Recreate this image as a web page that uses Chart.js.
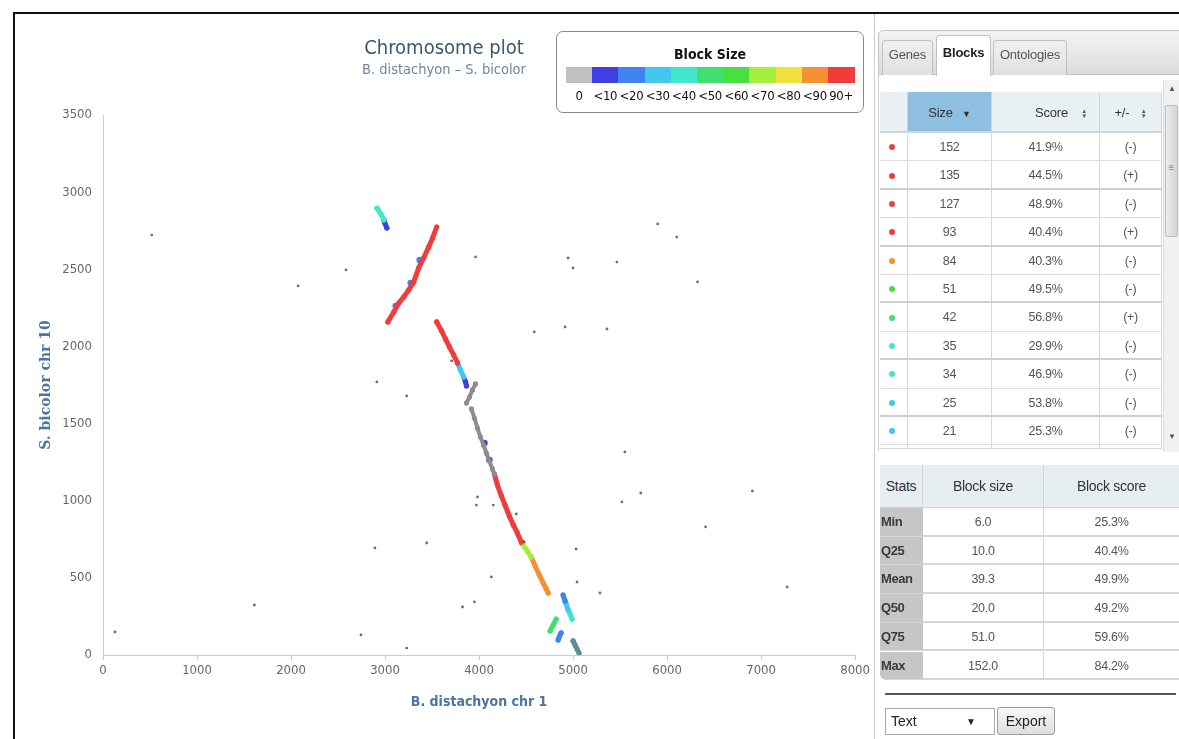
<!DOCTYPE html>
<html>
<head>
<meta charset="utf-8">
<script src="https://cdn.jsdelivr.net/npm/chart.js@4.4.1/dist/chart.umd.min.js"></script>
<style>
  html, body { margin: 0; padding: 0; background: #fff; }
  body { width: 1179px; height: 739px; position: relative; overflow: hidden;
         font-family: "Liberation Sans Narrow", "Arial Narrow", "Liberation Sans", Arial, sans-serif; }
  .abs { position: absolute; }
  #frame { left: 13px; top: 12px; width: 1200px; height: 760px; border-left: 2px solid #111; border-top: 2px solid #111; box-sizing: border-box; }
  #divider { left: 874px; top: 14px; width: 1px; height: 730px; background: #cfcfcf; }
  #chartWrap { left: 15px; top: 14px; width: 858px; height: 725px; }
  #title { left: 15px; width: 858px; top: 35px; text-align: center; font: 20px/24px "DejaVu Sans Condensed", "Liberation Sans Narrow", sans-serif; color: #3e576f; }
  #subtitle { left: 15px; width: 858px; top: 61px; text-align: center; font: 14.5px/17px "DejaVu Sans Condensed", "Liberation Sans Narrow", sans-serif; color: #6d869f; }
  #legend { left: 556px; top: 31px; width: 308px; height: 82px; border: 1px solid #8a8a8a; border-radius: 7px; box-sizing: border-box; background: #fff; }
  #legendTitle { left: 0; width: 306px; top: 13px; text-align: center; font: bold 14px/18px "DejaVu Sans Condensed", "Liberation Sans Narrow", sans-serif; color: #111; }
  .lcell { position: absolute; top: 35px; height: 16px; }
  .llab { position: absolute; top: 56px; width: 30px; text-align: center; font: 13px/15px "DejaVu Sans Condensed", "Liberation Sans Narrow", sans-serif; color: #111; white-space: nowrap; letter-spacing: -0.3px; }

  #tabbar { left: 878px; top: 30px; width: 320px; height: 45px; background: linear-gradient(#f4f4f4, #dcdcdc); border: 1px solid #c4c4c4; border-radius: 5px 0 0 0; box-sizing: border-box; }
  .tab { position: absolute; box-sizing: border-box; border: 1px solid #c0c0c0; border-bottom: none; border-radius: 4px 4px 0 0; text-align: center; font-size: 13px; color: #555; background: linear-gradient(#f0f0f0, #e0e0e0); letter-spacing: -0.2px; }
  .tab.active { background: #fff; color: #222; font-weight: bold; }
  #panelLeft { left: 878px; top: 75px; width: 1px; height: 376px; background: #d0d0d0; }

  .hcell { position: absolute; box-sizing: border-box; background: #e9f0f3; border-right: 1px solid #d4d4d4; border-bottom: 2px solid #cfd6da; font-size: 13px; color: #333; text-align: center; letter-spacing: -0.2px; }
  .cell { position: absolute; box-sizing: border-box; border-right: 1px solid #d8d8d8; font-size: 12.5px; color: #555; text-align: center; background: #fff; letter-spacing: -0.3px; }
  .dot { position: absolute; width: 6px; height: 6px; border-radius: 50%; }
  .sort { display: inline-block; font-size: 6px; line-height: 5px; vertical-align: middle; color: #555; margin-left: 8px; }
  #scroll { left: 1163px; top: 80px; width: 16px; height: 372px; background: #f1f1f1; border-left: 1px solid #dcdcdc; box-sizing: border-box; }
  #thumb { left: 1165px; top: 105px; width: 13px; height: 132px; background: linear-gradient(90deg, #ececec, #d4d4d4); border: 1px solid #bcbcbc; border-radius: 2px; box-sizing: border-box; }
  .arrow { position: absolute; font-size: 8px; color: #555; width: 16px; text-align: center; left: 1164px; }

  .shcell { position: absolute; box-sizing: border-box; background: #e7eef2; border-right: 1px solid #d4d4d4; border-bottom: 1px solid #d0d0d0; font-size: 14px; color: #333; text-align: center; letter-spacing: -0.3px; }
  .slab { position: absolute; box-sizing: border-box; background: #c6c6c6; font-size: 13px; font-weight: bold; color: #3a3a3a; padding-left: 1px; border-bottom: 1px solid #d8d8d8; letter-spacing: -0.4px; }
  .sval { position: absolute; box-sizing: border-box; font-size: 12.5px; color: #555; text-align: center; border-right: 1px solid #d8d8d8; border-bottom: 2px solid #d6d6d6; background: #fff; letter-spacing: -0.3px; }
  #hr { left: 885px; top: 693px; width: 291px; height: 2px; background: #555; }
  #select { left: 885px; top: 708px; width: 110px; height: 27px; border: 1px solid #a9a9a9; box-sizing: border-box; font-size: 14px; line-height: 25px; padding-left: 5px; color: #222; background: #fff; }
  #selArrow { left: 966px; top: 708px; font-size: 10px; line-height: 27px; color: #222; }
  #export { left: 997px; top: 707px; width: 58px; height: 28px; border: 1px solid #9a9a9a; border-radius: 3px; box-sizing: border-box; background: linear-gradient(#f8f8f8, #dedede); font-size: 14px; line-height: 26px; text-align: center; color: #222; }
</style>
</head>
<body>
<div id="frame" class="abs"></div>
<div id="divider" class="abs"></div>
<div id="chartWrap" class="abs"><canvas id="c"></canvas></div>
<div id="title" class="abs">Chromosome plot</div>
<div id="subtitle" class="abs">B. distachyon – S. bicolor</div>
<div id="legend" class="abs"><div id="legendTitle" class="abs">Block Size</div></div>

<div id="tabbar" class="abs"></div>
<div id="tabs"></div>
<div id="panelLeft" class="abs"></div>
<div id="blocks"></div>
<div id="scroll" class="abs"></div>
<div id="thumb" class="abs"></div>
<div class="arrow" style="top:84px;">▲</div>
<div class="arrow" style="top:162px;left:1165px;width:13px;font-size:10px;color:#888;">≡</div>
<div class="arrow" style="top:432px;">▼</div>
<div id="stats"></div>
<div id="hr" class="abs"></div>
<div id="select" class="abs">Text</div>
<div id="selArrow" class="abs">▼</div>
<div id="export" class="abs">Export</div>

<script>
// ---------------- DATA ----------------
const legendLabels = ["0", "<10", "<20", "<30", "<40", "<50", "<60", "<70", "<80", "<90", "90+"];
const legendColors = ["#c0c0c0", "#4040e2", "#3f84f0", "#40c8f0", "#40e8c8", "#40e070", "#48e040", "#a4ee3c", "#f2e040", "#f59035", "#f23c3c"];

const xTickValues = [0, 1000, 2000, 3000, 4000, 5000, 6000, 7000, 8000];
const yTickValues = [0, 500, 1000, 1500, 2000, 2500, 3000, 3500];

// isolated gene pairs (grey dots)
const singletons = [
  [127,149],[519,2722],[2076,2392],[2585,2496],[2892,694],[2913,1770],[3231,1679],[2744,130],
  [3231,45],[3443,726],[3962,2580],[4587,2094],[4915,2126],[3708,1906],[3983,1024],[3972,972],
  [4152,972],[4396,914],[5032,687],[3824,311],[3951,344],[4131,506],[5042,473],[5286,402],
  [1610,324],[4947,2573],[5000,2509],[5466,2547],[5360,2113],[5551,1316],[5720,1050],[5519,992],
  [5900,2794],[6102,2709],[6324,2418],[6409,830],[6907,1063],[7277,441]
];

// syntenic blocks
const blkTealTop    = [[2913,2897],[2956,2859],[2987,2820]];
const blkBlueTop    = [[2987,2820],[2998,2800],[3019,2768]];
const blkRedUp      = [[3030,2159],[3093,2223],[3146,2281],[3199,2321],[3252,2366],[3305,2418],[3358,2509],[3411,2574],[3464,2645],[3506,2703],[3549,2774]];
const blkBlueDotsUp = [[3114,2262],[3273,2411],[3369,2560]];
const blkRedDown1   = [[3549,2159],[3602,2100],[3644,2048],[3686,1996],[3729,1945],[3771,1893]];
const blkCyanMid    = [[3771,1893],[3803,1847],[3835,1802]];
const blkBlueMid    = [[3835,1802],[3856,1770],[3866,1744]];
const blkGreyUpper  = [[3962,1757],[3930,1718],[3898,1672],[3866,1633]];
const blkGreyLower  = [[3919,1595],[3951,1536],[3983,1471],[4015,1413],[4047,1361],[4078,1309],[4110,1257],[4142,1206],[4163,1173]];
const blkBlueDotsGr = [[4057,1374],[4110,1264]];
const blkRedDown2   = [[4163,1173],[4195,1102],[4237,1031],[4280,966],[4322,901],[4364,843],[4407,791],[4449,732]];
const blkBlackDot   = [[4460,726]];
const blkGreen51    = [[4470,713],[4513,674],[4555,635]];
const blkOrange84   = [[4555,635],[4597,577],[4640,519],[4682,467],[4714,428],[4735,402]];
const blkBlueLow    = [[4894,389],[4915,350]];
const blkCyanLow    = [[4915,350],[4926,331],[4947,292]];
const blkTealLow    = [[4947,292],[4968,266],[4989,233]];
const blkGreenLow   = [[4820,233],[4788,194],[4756,156]];
const blkBlueLow2   = [[4873,143],[4852,117],[4841,97]];
const blkSlateLow   = [[5000,91],[5021,65],[5042,39],[5063,13]];

// Blocks table
const tblSizes   = [152, 135, 127, 93, 84, 51, 42, 35, 34, 25, 21];
const tblScores  = ["41.9%", "44.5%", "48.9%", "40.4%", "40.3%", "49.5%", "56.8%", "29.9%", "46.9%", "53.8%", "25.3%"];
const tblStrand  = ["(-)", "(+)", "(-)", "(+)", "(-)", "(-)", "(+)", "(-)", "(-)", "(-)", "(-)"];

// Stats table
const statNames  = ["Min", "Q25", "Mean", "Q50", "Q75", "Max"];
const statSize   = ["6.0", "10.0", "39.3", "20.0", "51.0", "152.0"];
const statScore  = ["25.3%", "40.4%", "49.9%", "49.2%", "59.6%", "84.2%"];

// ---------------- LEGEND ----------------
const legend = document.getElementById('legend');
const cellW = 26.2;
legendColors.forEach((c, i) => {
  const d = document.createElement('div');
  d.className = 'lcell';
  d.style.left = (9 + i * cellW) + 'px';
  d.style.width = (cellW + 0.5) + 'px';
  d.style.background = c;
  legend.appendChild(d);
  const l = document.createElement('div');
  l.className = 'llab';
  l.style.left = (9 + i * cellW + cellW / 2 - 15) + 'px';
  l.textContent = legendLabels[i];
  legend.appendChild(l);
});

function sizeClass(n) {
  if (n <= 0) return 0;
  if (n >= 90) return 10;
  return Math.floor(n / 10) + 1;
}

// ---------------- TABS ----------------
const tabs = [["Genes", 882, 40, 51, 35, false], ["Blocks", 936, 35, 55, 41, true], ["Ontologies", 993, 40, 74, 35, false]];
const tabsDiv = document.getElementById('tabs');
tabs.forEach(t => {
  const d = document.createElement('div');
  d.className = 'tab' + (t[5] ? ' active' : '');
  d.style.left = t[1] + 'px'; d.style.top = t[2] + 'px';
  d.style.width = t[3] + 'px'; d.style.height = t[4] + 'px';
  d.style.lineHeight = (t[5] ? 34 : 28) + 'px';
  d.textContent = t[0];
  tabsDiv.appendChild(d);
});

// ---------------- BLOCKS TABLE ----------------
const bt = document.getElementById('blocks');
const cols = [[880, 28], [908, 84], [992, 108], [1100, 62]];
function addDiv(parent, cls, l, t, w, h, html, extra) {
  const d = document.createElement('div');
  d.className = cls;
  d.style.left = l + 'px'; d.style.top = t + 'px';
  d.style.width = w + 'px'; d.style.height = h + 'px';
  d.style.lineHeight = h + 'px';
  if (html !== undefined) d.innerHTML = html;
  if (extra) Object.assign(d.style, extra);
  parent.appendChild(d);
  return d;
}
const sortIcon = '<span class="sort">▲<br>▼</span>';
addDiv(bt, 'hcell', cols[0][0], 92, cols[0][1], 41, '');
addDiv(bt, 'hcell', cols[1][0], 92, cols[1][1], 41, 'Size <span style="font-size:9px;margin-left:6px;">▼</span>', {background: '#8ebfe1'});
addDiv(bt, 'hcell', cols[2][0], 92, cols[2][1], 41, '<span style="margin-left:12px">Score</span><span style="position:absolute;right:12px;top:0">' + sortIcon + '</span>');
addDiv(bt, 'hcell', cols[3][0], 92, cols[3][1], 41, '+/- ' + sortIcon, {});
const rowTop0 = 133, rowH = 28.4;
tblSizes.forEach((s, i) => {
  const top = rowTop0 + i * rowH;
  const bb = (i % 2 === 1) ? '2px solid #cfcfcf' : '1px solid #dedede';
  const vals = ['', String(s), tblScores[i], tblStrand[i]];
  cols.forEach((c, j) => {
    addDiv(bt, 'cell', c[0], top, c[1], rowH, vals[j], {borderBottom: bb});
  });
  const dot = document.createElement('div');
  dot.className = 'dot';
  dot.style.left = '889px';
  dot.style.top = (top + rowH / 2 - 3) + 'px';
  dot.style.background = legendColors[sizeClass(s)];
  bt.appendChild(dot);
});
cols.forEach(c => addDiv(bt, 'cell', c[0], rowTop0 + tblSizes.length * rowH, c[1], 4, '', {borderBottom: '1px solid #d8d8d8'}));

// ---------------- STATS TABLE ----------------
const st = document.getElementById('stats');
const scols = [[880, 43], [923, 121], [1044, 135]];
addDiv(st, 'shcell', scols[0][0], 465, scols[0][1], 43, 'Stats');
addDiv(st, 'shcell', scols[1][0], 465, scols[1][1], 43, 'Block size');
addDiv(st, 'shcell', scols[2][0], 465, scols[2][1], 43, 'Block score', {borderRight: 'none'});
const sTop0 = 508, sRowH = 28.7;
statNames.forEach((n, i) => {
  const top = sTop0 + i * sRowH;
  const extra = (i === statNames.length - 1) ? {borderBottomLeftRadius: '6px'} : {};
  addDiv(st, 'slab', scols[0][0], top, scols[0][1], sRowH, n, extra);
  addDiv(st, 'sval', scols[1][0], top, scols[1][1], sRowH, statSize[i]);
  addDiv(st, 'sval', scols[2][0], top, scols[2][1], sRowH, statScore[i], {borderRight: 'none'});
});

// ---------------- CHART ----------------
const toPts = arr => arr.map(p => ({x: p[0], y: p[1]}));
function blockDS(arr, cls, opts) {
  const col = cls === 'black' ? '#111' : (cls === 'slate' ? '#5d8d9c' : legendColors[cls]);
  return Object.assign({
    data: toPts(arr),
    showLine: true,
    borderColor: col,
    backgroundColor: col,
    pointBackgroundColor: col,
    pointBorderColor: col,
    borderWidth: 5,
    borderCapStyle: 'round',
    borderJoinStyle: 'round',
    pointRadius: 2.6,
    pointBorderWidth: 0
  }, opts || {});
}
const dotOpts = {showLine: false, pointRadius: 3.3, pointBorderWidth: 0};

const datasets = [
  {data: toPts(singletons), showLine: false, pointRadius: 1.4, pointBorderWidth: 0, backgroundColor: '#6e6e6e', pointBackgroundColor: '#6e6e6e'},
  blockDS(blkTealTop, 4),
  blockDS(blkBlueTop, 1),
  blockDS(blkRedUp, 10),
  blockDS(blkBlueDotsUp, 2, dotOpts),
  blockDS(blkRedDown1, 10),
  blockDS(blkCyanMid, 3),
  blockDS(blkBlueMid, 1),
  blockDS(blkGreyUpper, 0, {borderColor: '#8c8c8c', pointBackgroundColor: '#8c8c8c', borderWidth: 4}),
  blockDS(blkGreyLower, 0, {borderColor: '#8c8c8c', pointBackgroundColor: '#8c8c8c', borderWidth: 4}),
  blockDS(blkBlueDotsGr, 1, dotOpts),
  blockDS(blkRedDown2, 10),
  blockDS(blkGreen51, 7),
  blockDS(blkOrange84, 9),
  blockDS(blkBlackDot, 'black', {showLine: false, pointRadius: 3}),
  blockDS(blkBlueLow, 2),
  blockDS(blkCyanLow, 3),
  blockDS(blkTealLow, 4),
  blockDS(blkGreenLow, 5),
  blockDS(blkBlueLow2, 2),
  blockDS(blkSlateLow, 'slate')
];

const axisFont = '"DejaVu Sans Condensed", "Liberation Sans Narrow", sans-serif';
new Chart(document.getElementById('c'), {
  type: 'scatter',
  data: {datasets},
  options: {
    responsive: true,
    maintainAspectRatio: false,
    animation: false,
    layout: {padding: {top: 101, right: 15, left: 0, bottom: 0}},
    plugins: {legend: {display: false}, tooltip: {enabled: false}},
    scales: {
      x: {
        type: 'linear', min: 0, max: 8000,
        afterBuildTicks: s => { s.ticks = xTickValues.map(v => ({value: v})); },
        afterFit: s => { s.height = 84; },
        border: {display: true, color: '#c0d0e0', width: 1},
        grid: {display: true, drawOnChartArea: false, drawTicks: true, tickLength: 5, color: '#c0d0e0'},
        ticks: {color: '#666', padding: 3, font: {family: axisFont, size: 13}, callback: v => String(v), maxRotation: 0},
        title: {display: true, text: 'B. distachyon chr 1', color: '#4d759e', font: {family: axisFont, size: 14, weight: 'bold'}, padding: {top: 0, bottom: 28}}
      },
      y: {
        type: 'linear', min: 0, max: 3500,
        afterBuildTicks: s => { s.ticks = yTickValues.map(v => ({value: v})); },
        afterFit: s => { s.width = 88; },
        border: {display: true, color: '#c0d0e0', width: 1},
        grid: {display: true, drawOnChartArea: false, drawTicks: false, color: '#c0d0e0'},
        ticks: {color: '#666', padding: 11, font: {family: axisFont, size: 13}, callback: v => String(v)},
        title: {display: true, text: 'S. bicolor chr 10', color: '#4d759e', font: {family: 'DejaVu Serif', size: 14, weight: 'bold'}, padding: {top: 23, bottom: 0}}
      }
    }
  }
});
</script>
</body>
</html>
